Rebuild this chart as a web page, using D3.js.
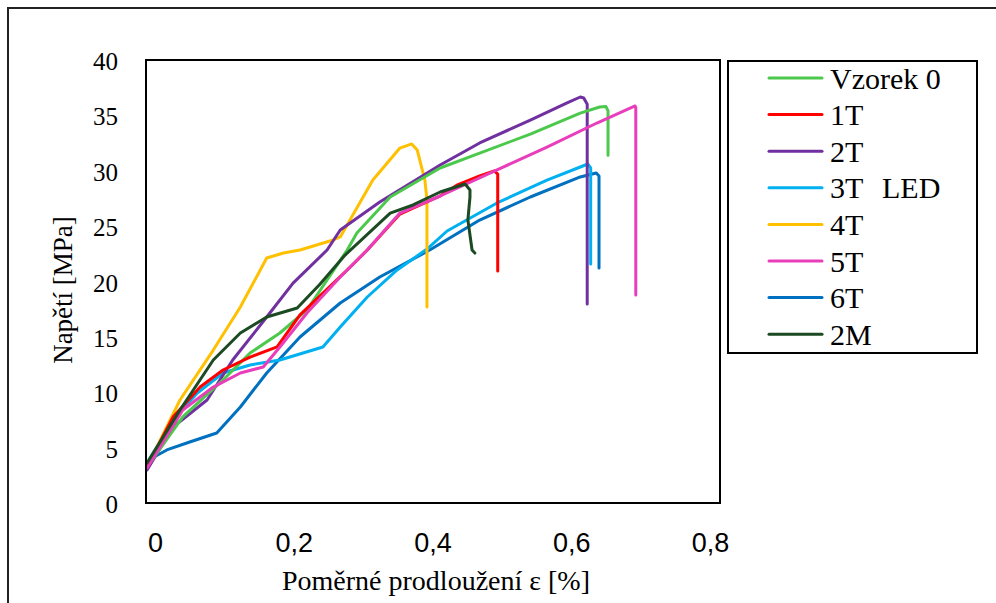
<!DOCTYPE html>
<html>
<head>
<meta charset="utf-8">
<script src="https://cdn.jsdelivr.net/npm/d3@7"></script>
<style>
  html, body { margin: 0; padding: 0; background: #fff; }
  svg { display: block; }
</style>
</head>
<body>
<svg id="chart" width="996" height="603"></svg>
<script>
// ---- data (strain [%], stress [MPa]) ----
const vzorek0 = [[-0.0115,3.25],[0.040,7.77],[0.098,11.11],[0.137,13.54],[0.180,15.35],[0.219,17.43],[0.277,22.84],[0.291,24.38],[0.339,27.63],[0.411,30.25],[0.468,31.6],[0.541,33.3],[0.613,35.2],[0.641,35.76],[0.650,35.8],[0.653,35.4],[0.653,31.4]];
const t1 = [[-0.0115,3.25],[0.026,7.77],[0.065,10.47],[0.098,12.01],[0.137,13.18],[0.176,14.09],[0.209,16.98],[0.277,21.04],[0.306,22.84],[0.353,26.09],[0.411,27.72],[0.435,28.7],[0.468,29.53],[0.489,29.98],[0.494,29.7],[0.494,20.95]];
const t2 = [[-0.0115,2.98],[0.026,6.86],[0.075,9.30],[0.112,12.91],[0.161,16.79],[0.199,19.86],[0.248,22.84],[0.267,24.65],[0.324,27.18],[0.411,30.52],[0.468,32.51],[0.541,34.58],[0.594,36.12],[0.613,36.66],[0.618,36.57],[0.623,36.0],[0.623,17.97]];
const t3 = [[-0.0115,3.61],[0.026,7.49],[0.061,9.93],[0.098,11.74],[0.137,12.46],[0.180,12.91],[0.242,14.09],[0.267,15.89],[0.306,18.60],[0.349,21.04],[0.392,22.93],[0.421,24.56],[0.493,27.09],[0.565,29.16],[0.613,30.34],[0.624,30.61],[0.628,30.25],[0.628,21.58]];
const t4 = [[-0.0115,3.25],[0.036,9.30],[0.084,13.81],[0.123,17.70],[0.161,22.12],[0.185,22.57],[0.209,22.84],[0.257,23.75],[0.267,24.02],[0.314,29.16],[0.353,32.05],[0.370,32.42],[0.378,31.87],[0.389,29.16],[0.392,27.36],[0.392,17.70]];
const t5 = [[-0.0115,3.16],[0.040,8.40],[0.084,10.47],[0.123,11.74],[0.156,12.28],[0.180,14.09],[0.219,17.16],[0.267,20.41],[0.306,22.84],[0.353,26.18],[0.411,27.72],[0.493,30.07],[0.565,32.14],[0.637,34.31],[0.692,35.85],[0.693,35.7],[0.693,18.78]];
const t6 = [[-0.0115,3.34],[-0.004,4.06],[0.017,4.79],[0.050,5.51],[0.089,6.32],[0.123,8.67],[0.161,11.74],[0.209,14.99],[0.267,18.06],[0.324,20.41],[0.396,22.84],[0.468,25.55],[0.541,27.63],[0.613,29.44],[0.636,29.80],[0.640,29.53],[0.640,21.22]];
const m2 = [[-0.0115,3.61],[0.036,8.40],[0.084,12.91],[0.123,15.35],[0.161,16.79],[0.205,17.61],[0.238,19.77],[0.274,22.39],[0.339,26.18],[0.372,26.91],[0.411,28.08],[0.447,28.80],[0.454,28.26],[0.454,27.63],[0.451,25.55],[0.457,22.84],[0.461,22.57]];

const seriesNames = ["Vzorek 0","1T","2T","3T","4T","5T","6T","2M"];
const seriesColors = ["#4CC94C","#FF0000","#7030A0","#00B0F0","#FFC000","#E83EBB","#0070C0","#1C4A22"];
const seriesData = [vzorek0,t1,t2,t3,t4,t5,t6,m2];

const xTickValues = [0,0.2,0.4,0.6,0.8];
const xTickLabels = ["0","0,2","0,4","0,6","0,8"];
const yTickValues = [0,5,10,15,20,25,30,35,40];

// ---- layout ----
const svg = d3.select("#chart");
const L = 146, R = 720, T = 60, B = 503;
const x = d3.scaleLinear().domain([-0.0130, 0.8144]).range([L, R]);
const y = d3.scaleLinear().domain([0, 40]).range([B, T]);

// outer frame
svg.append("rect").attr("x", 8).attr("y", 8).attr("width", 1100).attr("height", 700)
  .attr("fill", "none").attr("stroke", "#222").attr("stroke-width", 2);

const line = d3.line().x(d => x(d[0])).y(d => y(d[1])).curve(d3.curveLinear);
const order = [6,3,4,2,0,1,5,7];
order.forEach(i => {
  svg.append("path").datum(seriesData[i])
    .attr("d", line)
    .attr("fill", "none")
    .attr("stroke", seriesColors[i])
    .attr("stroke-width", 3)
    .attr("stroke-linejoin", "round")
    .attr("stroke-linecap", "round");
});

// plot box
svg.append("rect").attr("x", L).attr("y", T).attr("width", R - L).attr("height", B - T)
  .attr("fill", "none").attr("stroke", "#000").attr("stroke-width", 2);

// axes
const yAxis = d3.axisLeft(y).tickValues(yTickValues).tickSize(0).tickPadding(28).tickFormat(d => String(d));
const gy = svg.append("g").attr("transform", `translate(${L},0)`).call(yAxis);
gy.select(".domain").remove();
gy.selectAll("text").attr("font-family", "Liberation Serif, serif").attr("font-size", 25).attr("fill", "#000").attr("dy", "0.38em");

const xAxis = d3.axisBottom(x).tickValues(xTickValues).tickSize(0).tickPadding(30)
  .tickFormat((d, i) => xTickLabels[i]);
const gx = svg.append("g").attr("transform", `translate(0,${B})`).call(xAxis);
gx.select(".domain").remove();
gx.selectAll("text").attr("font-family", "Liberation Sans, Arial, sans-serif").attr("font-size", 27).attr("fill", "#000");

// axis titles
svg.append("text").attr("x", 436).attr("y", 590)
  .attr("text-anchor", "middle").attr("font-family", "Liberation Serif, serif").attr("font-size", 28)
  .text("Poměrné prodloužení ε [%]");
svg.append("text").attr("transform", "translate(72,290) rotate(-90)")
  .attr("text-anchor", "middle").attr("font-family", "Liberation Serif, serif").attr("font-size", 27)
  .text("Napětí [MPa]");

// legend
const lg = svg.append("g");
lg.append("rect").attr("x", 728).attr("y", 61).attr("width", 249).attr("height", 292)
  .attr("fill", "#fff").attr("stroke", "#000").attr("stroke-width", 2);
seriesNames.forEach((name, i) => {
  const yy = 78 + i * 36.6;
  lg.append("line").attr("x1", 769).attr("x2", 822).attr("y1", yy).attr("y2", yy)
    .attr("stroke", seriesColors[i]).attr("stroke-width", 3).attr("stroke-linecap", "round");
  lg.append("text").attr("x", 830).attr("y", yy).attr("dy", "0.35em")
    .attr("font-family", "Liberation Serif, serif").attr("font-size", 30).text(name);
});
lg.append("text").attr("x", 882).attr("y", 78 + 3 * 36.6).attr("dy", "0.35em")
  .attr("font-family", "Liberation Serif, serif").attr("font-size", 30).text("LED");
</script>
</body>
</html>
